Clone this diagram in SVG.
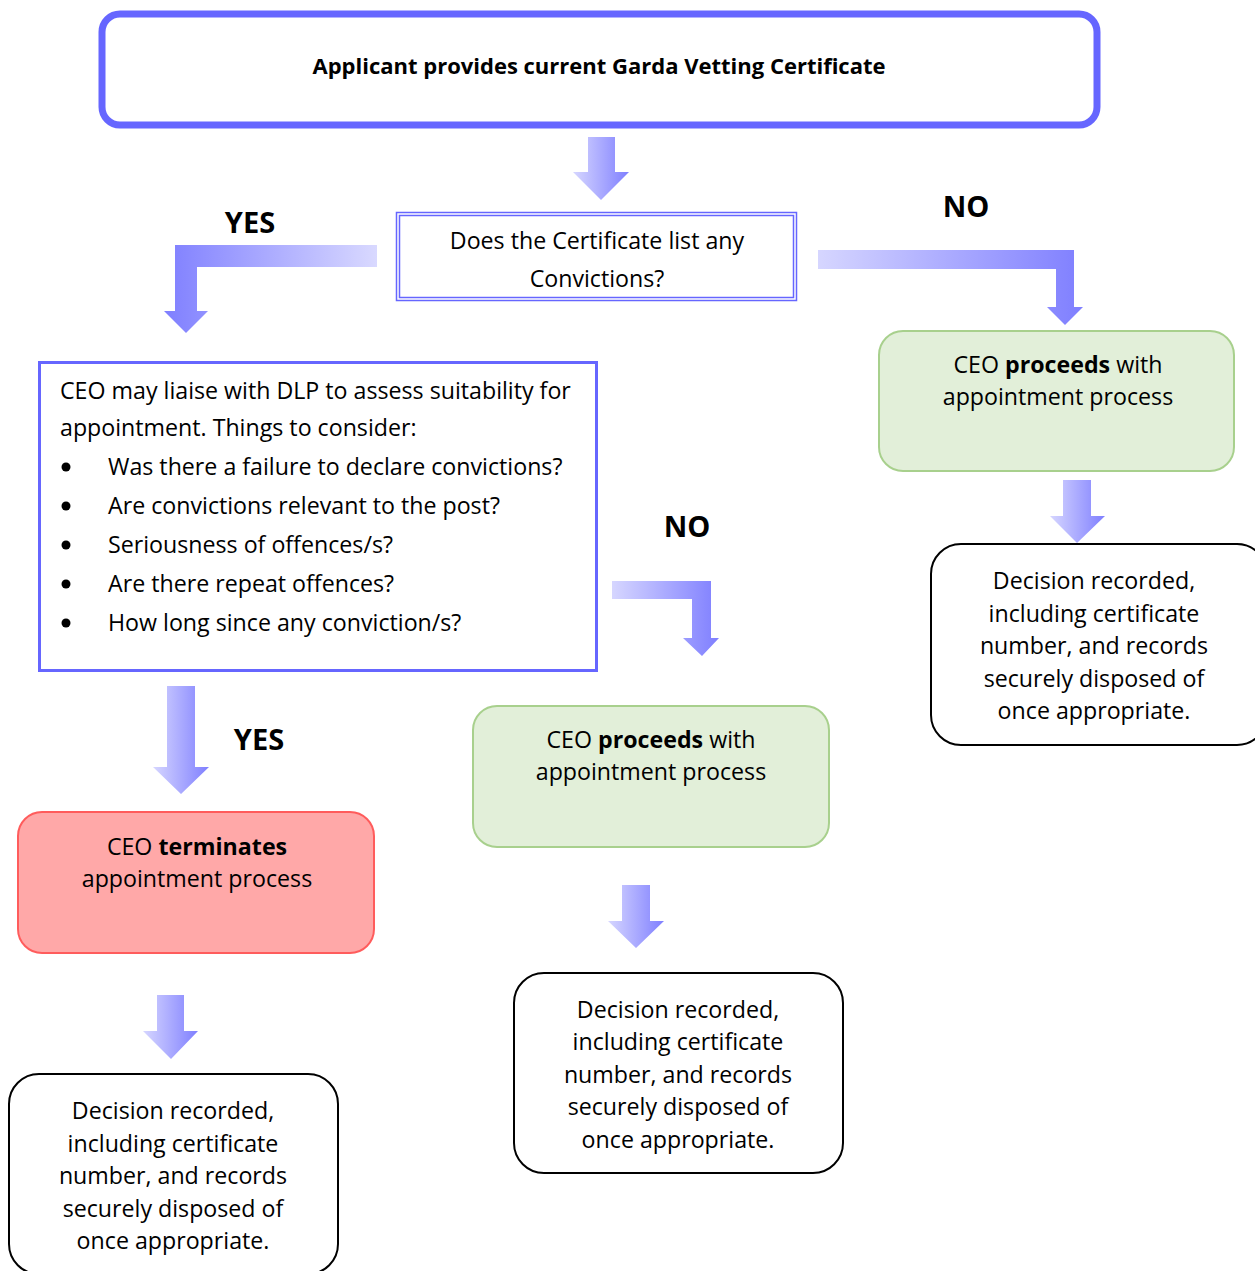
<svg xmlns="http://www.w3.org/2000/svg" width="1255" height="1271" viewBox="0 0 1255 1271">
<defs>
<linearGradient id="gR" x1="0" y1="0" x2="1" y2="0"><stop offset="0" stop-color="#d6d6ff"/><stop offset="1" stop-color="#7f7fff"/></linearGradient>
<linearGradient id="gL" x1="0" y1="0" x2="1" y2="0"><stop offset="0" stop-color="#7f7fff"/><stop offset="1" stop-color="#d9d9ff"/></linearGradient>
<style>
text{font-family:"Open Sans","Noto Sans",sans-serif;fill:#000;}
.t{font-size:23.2px;}
.c{text-anchor:middle;}
.b{font-weight:bold;}
.lbl{font-size:29px;font-weight:bold;text-anchor:middle;}
.dec{fill:#fff;stroke:#000;stroke-width:2;}
.grn{fill:#e2efd9;stroke:#a8d08d;stroke-width:2;}
.arr{fill:url(#gR);}
</style>
</defs>
<g id="connectors">
<polygon class="arr" points="588,137 615,137 615,172 629,172 601,200 573,172 588,172"/>
<polygon fill="url(#gL)" points="377,245 175,245 175,311 164,311 186,333 208,311 197,311 197,267 377,267"/>
<polygon class="arr" points="818,250 1074,250 1074,307 1083,307 1065,325 1047,307 1056,307 1056,269 818,269"/>
<polygon class="arr" points="612,581 711,581 711,638 719,638 702,656 683,638 692,638 692,599 612,599"/>
<polygon class="arr" points="1063,480 1091,480 1091,516 1105,516 1077,543 1050,516 1063,516"/>
<polygon class="arr" points="167,686 195,686 195,767 209,767 181,794 153,767 167,767"/>
<polygon class="arr" points="157,995 184,995 184,1031 198,1031 171,1059 143,1031 157,1031"/>
<polygon class="arr" points="622,885 650,885 650,921 664,921 636,948 608,921 622,921"/>
</g>
<g id="labels">
<text class="lbl" x="250" y="233">YES</text>
<text class="lbl" x="966" y="217">NO</text>
<text class="lbl" x="687" y="537">NO</text>
<text class="lbl" x="259" y="750">YES</text>
</g>
<g id="start">
<rect x="102" y="14" width="995" height="111" rx="18" fill="#fff" stroke="#6666ff" stroke-width="7"/>
<text class="c b" x="599" y="74" style="font-size:22px">Applicant provides current Garda Vetting Certificate</text>
</g>
<g id="question">
<rect x="396.5" y="212.5" width="400" height="88" fill="#fff" stroke="#6666ff" stroke-width="1.5"/>
<rect x="399.5" y="215.5" width="394" height="82" fill="none" stroke="#6666ff" stroke-width="1.5"/>
<text class="t c" x="597" y="249">Does the Certificate list any</text>
<text class="t c" x="597" y="287">Convictions?</text>
</g>
<g id="consider">
<rect x="39.5" y="362.5" width="557" height="308" fill="#fff" stroke="#6666ff" stroke-width="3"/>
<text class="t" x="60" y="399">CEO may liaise with DLP to assess suitability for</text>
<text class="t" x="60" y="436">appointment. Things to consider:</text>
<g>
<circle cx="66" cy="467" r="4.5"/>
<circle cx="66" cy="506" r="4.5"/>
<circle cx="66" cy="545" r="4.5"/>
<circle cx="66" cy="584" r="4.5"/>
<circle cx="66" cy="623" r="4.5"/>
</g>
<text class="t" x="108" y="475">Was there a failure to declare convictions?</text>
<text class="t" x="108" y="514">Are convictions relevant to the post?</text>
<text class="t" x="108" y="553">Seriousness of offences/s?</text>
<text class="t" x="108" y="592">Are there repeat offences?</text>
<text class="t" x="108" y="631">How long since any conviction/s?</text>
</g>
<g id="proceed-right">
<rect class="grn" x="879" y="331" width="355" height="140" rx="24"/>
<text class="t c" x="1058" y="373">CEO <tspan class="b">proceeds</tspan> with</text>
<text class="t c" x="1058" y="405">appointment process</text>
</g>
<g id="decision-right">
<rect class="dec" x="931" y="544" width="336" height="201" rx="30"/>
<text class="t c" x="1094" y="589">Decision recorded,</text>
<text class="t c" x="1094" y="622">including certificate</text>
<text class="t c" x="1094" y="654">number, and records</text>
<text class="t c" x="1094" y="687">securely disposed of</text>
<text class="t c" x="1094" y="719">once appropriate.</text>
</g>
<g id="proceed-middle">
<rect class="grn" x="473" y="706" width="356" height="141" rx="24"/>
<text class="t c" x="651" y="748">CEO <tspan class="b">proceeds</tspan> with</text>
<text class="t c" x="651" y="780">appointment process</text>
</g>
<g id="decision-middle">
<rect class="dec" x="514" y="973" width="329" height="200" rx="30"/>
<text class="t c" x="678" y="1018">Decision recorded,</text>
<text class="t c" x="678" y="1050">including certificate</text>
<text class="t c" x="678" y="1083">number, and records</text>
<text class="t c" x="678" y="1115">securely disposed of</text>
<text class="t c" x="678" y="1148">once appropriate.</text>
</g>
<g id="terminate">
<rect x="18" y="812" width="356" height="141" rx="24" fill="#ffa8a8" stroke="#ff5c5c" stroke-width="2"/>
<text class="t c" x="197" y="855">CEO <tspan class="b">terminates</tspan></text>
<text class="t c" x="197" y="887">appointment process</text>
</g>
<g id="decision-left">
<rect class="dec" x="9" y="1074" width="329" height="200" rx="30"/>
<text class="t c" x="173" y="1119">Decision recorded,</text>
<text class="t c" x="173" y="1152">including certificate</text>
<text class="t c" x="173" y="1184">number, and records</text>
<text class="t c" x="173" y="1217">securely disposed of</text>
<text class="t c" x="173" y="1249">once appropriate.</text>
</g>
</svg>
